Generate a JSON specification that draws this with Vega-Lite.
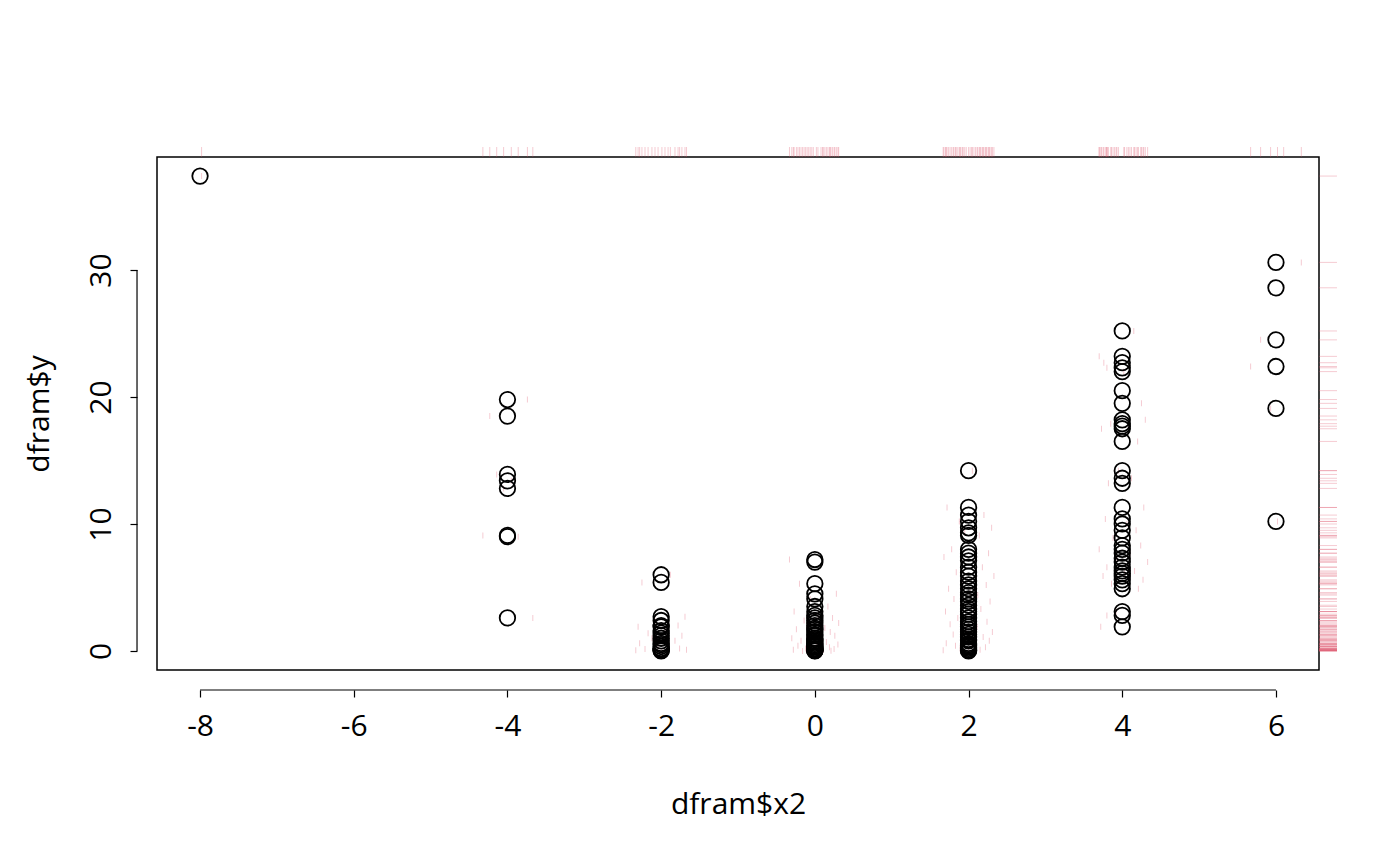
{
  "$schema": "https://vega.github.io/schema/vega-lite/v6.json",
  "width": 1162,
  "height": 513,
  "autosize": "none",
  "padding": {"left": 157, "top": 157, "right": 81, "bottom": 196},
  "background": "white",
  "config": {
    "view": {"stroke": "black", "strokeWidth": 1.5},
    "font": "Open Sans",
    "axis": {
      "labelFont": "Open Sans", "titleFont": "Open Sans",
      "labelFontSize": 30, "titleFontSize": 30, "titleFontWeight": "normal",
      "labelColor": "black", "titleColor": "black", "tickColor": "black",
      "tickWidth": 1.2, "domain": false, "grid": false
    }
  },
  "data": {"values": [
    {"x": -8, "y": 37.4, "jx": -7.98},
    {"x": -4, "y": 19.8, "jx": -3.74},
    {"x": -4, "y": 18.5, "jx": -4.23},
    {"x": -4, "y": 13.9, "jx": -4.14},
    {"x": -4, "y": 13.4, "jx": -3.95},
    {"x": -4, "y": 12.8, "jx": -4.05},
    {"x": -4, "y": 9.1, "jx": -4.32},
    {"x": -4, "y": 9.0, "jx": -3.86},
    {"x": -4, "y": 2.6, "jx": -3.67},
    {"x": -2, "y": 6.0, "jx": -1.88},
    {"x": -2, "y": 5.4, "jx": -2.25},
    {"x": -2, "y": 2.7, "jx": -1.69},
    {"x": -2, "y": 2.4, "jx": -2.08},
    {"x": -2, "y": 2.0, "jx": -1.78},
    {"x": -2, "y": 1.9, "jx": -2.3},
    {"x": -2, "y": 1.6, "jx": -1.95},
    {"x": -2, "y": 1.4, "jx": -2.17},
    {"x": -2, "y": 1.2, "jx": -1.73},
    {"x": -2, "y": 1.0, "jx": -2.12},
    {"x": -2, "y": 0.8, "jx": -1.82},
    {"x": -2, "y": 0.6, "jx": -2.28},
    {"x": -2, "y": 0.5, "jx": -1.91},
    {"x": -2, "y": 0.35, "jx": -2.04},
    {"x": -2, "y": 0.2, "jx": -1.76},
    {"x": -2, "y": 0.15, "jx": -2.21},
    {"x": -2, "y": 0.1, "jx": -1.67},
    {"x": -2, "y": 0.05, "jx": -2.33},
    {"x": -2, "y": 0.0, "jx": -1.99},
    {"x": 0, "y": 7.2, "jx": -0.33},
    {"x": 0, "y": 7.0, "jx": 0.1},
    {"x": 0, "y": 5.3, "jx": -0.2},
    {"x": 0, "y": 4.5, "jx": 0.28},
    {"x": 0, "y": 4.1, "jx": -0.06},
    {"x": 0, "y": 3.5, "jx": 0.17},
    {"x": 0, "y": 3.1, "jx": -0.27},
    {"x": 0, "y": 2.8, "jx": 0.04},
    {"x": 0, "y": 2.6, "jx": 0.23},
    {"x": 0, "y": 2.4, "jx": -0.14},
    {"x": 0, "y": 2.2, "jx": 0.31},
    {"x": 0, "y": 2.0, "jx": -0.1},
    {"x": 0, "y": 1.8, "jx": 0.13},
    {"x": 0, "y": 1.7, "jx": -0.24},
    {"x": 0, "y": 1.5, "jx": 0.2},
    {"x": 0, "y": 1.3, "jx": -0.02},
    {"x": 0, "y": 1.2, "jx": 0.26},
    {"x": 0, "y": 1.0, "jx": -0.3},
    {"x": 0, "y": 0.9, "jx": 0.08},
    {"x": 0, "y": 0.8, "jx": -0.18},
    {"x": 0, "y": 0.7, "jx": 0.15},
    {"x": 0, "y": 0.6, "jx": -0.08},
    {"x": 0, "y": 0.5, "jx": 0.3},
    {"x": 0, "y": 0.4, "jx": -0.22},
    {"x": 0, "y": 0.35, "jx": 0.02},
    {"x": 0, "y": 0.3, "jx": 0.19},
    {"x": 0, "y": 0.2, "jx": -0.12},
    {"x": 0, "y": 0.15, "jx": 0.25},
    {"x": 0, "y": 0.1, "jx": -0.28},
    {"x": 0, "y": 0.08, "jx": 0.11},
    {"x": 0, "y": 0.05, "jx": -0.04},
    {"x": 0, "y": 0.02, "jx": 0.21},
    {"x": 0, "y": 0.0, "jx": -0.16},
    {"x": 2, "y": 14.2, "jx": 2.05},
    {"x": 2, "y": 11.3, "jx": 1.72},
    {"x": 2, "y": 10.7, "jx": 2.2},
    {"x": 2, "y": 10.2, "jx": 1.88},
    {"x": 2, "y": 9.7, "jx": 2.3},
    {"x": 2, "y": 9.3, "jx": 1.95},
    {"x": 2, "y": 9.1, "jx": 2.14},
    {"x": 2, "y": 8.0, "jx": 1.78},
    {"x": 2, "y": 7.7, "jx": 2.26},
    {"x": 2, "y": 7.4, "jx": 1.68},
    {"x": 2, "y": 7.1, "jx": 2.09},
    {"x": 2, "y": 6.6, "jx": 2.18},
    {"x": 2, "y": 6.2, "jx": 1.84},
    {"x": 2, "y": 5.9, "jx": 2.33},
    {"x": 2, "y": 5.5, "jx": 1.92},
    {"x": 2, "y": 5.2, "jx": 2.23},
    {"x": 2, "y": 4.9, "jx": 1.74},
    {"x": 2, "y": 4.6, "jx": 2.02},
    {"x": 2, "y": 4.4, "jx": 2.12},
    {"x": 2, "y": 4.1, "jx": 1.81},
    {"x": 2, "y": 3.9, "jx": 2.28},
    {"x": 2, "y": 3.6, "jx": 1.9},
    {"x": 2, "y": 3.3, "jx": 2.16},
    {"x": 2, "y": 3.1, "jx": 1.7},
    {"x": 2, "y": 2.9, "jx": 2.07},
    {"x": 2, "y": 2.6, "jx": 1.86},
    {"x": 2, "y": 2.3, "jx": 2.24},
    {"x": 2, "y": 2.1, "jx": 1.76},
    {"x": 2, "y": 1.9, "jx": 2.11},
    {"x": 2, "y": 1.7, "jx": 1.97},
    {"x": 2, "y": 1.5, "jx": 2.31},
    {"x": 2, "y": 1.3, "jx": 1.8},
    {"x": 2, "y": 1.1, "jx": 2.19},
    {"x": 2, "y": 0.9, "jx": 1.93},
    {"x": 2, "y": 0.8, "jx": 2.27},
    {"x": 2, "y": 0.6, "jx": 1.71},
    {"x": 2, "y": 0.5, "jx": 2.04},
    {"x": 2, "y": 0.4, "jx": 1.83},
    {"x": 2, "y": 0.3, "jx": 2.22},
    {"x": 2, "y": 0.2, "jx": 1.89},
    {"x": 2, "y": 0.1, "jx": 2.15},
    {"x": 2, "y": 0.05, "jx": 1.67},
    {"x": 2, "y": 0.0, "jx": 2.0},
    {"x": 4, "y": 25.2, "jx": 4.15},
    {"x": 4, "y": 23.2, "jx": 3.7},
    {"x": 4, "y": 22.7, "jx": 3.76},
    {"x": 4, "y": 22.3, "jx": 3.8},
    {"x": 4, "y": 22.0, "jx": 4.02},
    {"x": 4, "y": 20.5, "jx": 3.9},
    {"x": 4, "y": 19.5, "jx": 4.25},
    {"x": 4, "y": 18.2, "jx": 4.3},
    {"x": 4, "y": 17.9, "jx": 3.85},
    {"x": 4, "y": 17.7, "jx": 4.08},
    {"x": 4, "y": 17.5, "jx": 3.73},
    {"x": 4, "y": 16.5, "jx": 4.2},
    {"x": 4, "y": 14.2, "jx": 3.95},
    {"x": 4, "y": 13.6, "jx": 4.12},
    {"x": 4, "y": 13.2, "jx": 3.82},
    {"x": 4, "y": 11.3, "jx": 4.28},
    {"x": 4, "y": 10.4, "jx": 3.78},
    {"x": 4, "y": 10.0, "jx": 4.06},
    {"x": 4, "y": 9.5, "jx": 4.18},
    {"x": 4, "y": 8.9, "jx": 3.88},
    {"x": 4, "y": 8.3, "jx": 4.24},
    {"x": 4, "y": 8.0, "jx": 3.7},
    {"x": 4, "y": 7.7, "jx": 4.1},
    {"x": 4, "y": 7.3, "jx": 3.93},
    {"x": 4, "y": 7.0, "jx": 4.33},
    {"x": 4, "y": 6.6, "jx": 3.8},
    {"x": 4, "y": 6.3, "jx": 4.16},
    {"x": 4, "y": 6.1, "jx": 4.03},
    {"x": 4, "y": 5.9, "jx": 3.75},
    {"x": 4, "y": 5.6, "jx": 4.27},
    {"x": 4, "y": 5.3, "jx": 3.86},
    {"x": 4, "y": 4.9, "jx": 4.21},
    {"x": 4, "y": 3.1, "jx": 3.92},
    {"x": 4, "y": 2.8, "jx": 3.8},
    {"x": 4, "y": 1.9, "jx": 3.72},
    {"x": 6, "y": 30.6, "jx": 6.33},
    {"x": 6, "y": 28.6, "jx": 6.1},
    {"x": 6, "y": 24.5, "jx": 5.8},
    {"x": 6, "y": 22.4, "jx": 5.67},
    {"x": 6, "y": 19.1, "jx": 5.93},
    {"x": 6, "y": 10.2, "jx": 6.02}
  ]},
  "layer": [
    {
      "data": {"values": [{}]},
      "mark": {"type": "rule", "color": "black", "strokeWidth": 1.2},
      "encoding": {
        "x": {"datum": -8, "type": "quantitative", "scale": {"domain": [-8.56, 6.56], "nice": false, "zero": false}},
        "x2": {"datum": 6},
        "y": {"datum": -3.075, "type": "quantitative", "scale": {"domain": [-1.5, 38.9], "nice": false, "zero": false}}
      }
    },
    {
      "data": {"values": [{}]},
      "mark": {"type": "rule", "color": "black", "strokeWidth": 1.2},
      "encoding": {
        "x": {"datum": -8.82, "type": "quantitative"},
        "y": {"datum": 0, "type": "quantitative"},
        "y2": {"datum": 30}
      }
    },
    {
      "mark": {"type": "tick", "orient": "vertical", "color": "#DF536B", "opacity": 0.3, "thickness": 1, "size": 6},
      "encoding": {
        "x": {"field": "jx", "type": "quantitative"},
        "y": {"field": "y", "type": "quantitative"}
      }
    },
    {
      "mark": {"type": "tick", "orient": "vertical", "color": "#DF536B", "opacity": 0.3, "thickness": 1, "size": 10},
      "encoding": {
        "x": {"field": "jx", "type": "quantitative"},
        "y": {"datum": 39.3, "type": "quantitative"}
      }
    },
    {
      "mark": {"type": "tick", "orient": "horizontal", "color": "#DF536B", "opacity": 0.3, "thickness": 1, "size": 18},
      "encoding": {
        "x": {"datum": 6.677, "type": "quantitative"},
        "y": {"field": "y", "type": "quantitative"}
      }
    },
    {
      "mark": {"type": "point", "shape": "circle", "filled": false, "color": "black", "strokeWidth": 1.8, "size": 240, "opacity": 1},
      "encoding": {
        "x": {"field": "x", "type": "quantitative", "title": "dfram$x2",
          "axis": {"values": [-8, -6, -4, -2, 0, 2, 4, 6], "labelExpr": "toString(datum.value)", "offset": 20, "tickSize": 7, "labelPadding": 14, "titlePadding": 48, "title": "dfram$x2"}},
        "y": {"field": "y", "type": "quantitative", "title": "dfram$y",
          "axis": {"values": [0, 10, 20, 30], "labelExpr": "toString(datum.value)", "offset": 20, "tickSize": 7, "labelAngle": 270, "labelPadding": 14, "titlePadding": 32, "title": "dfram$y"}}
      }
    }
  ]
}
